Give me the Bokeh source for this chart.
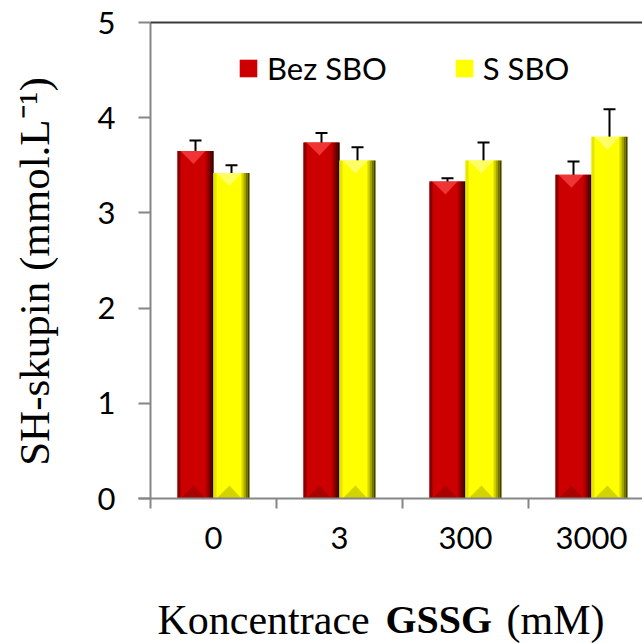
import math
from bokeh.plotting import figure
from bokeh.models import (Range1d, FixedTicker, Whisker, ColumnDataSource,
                          Legend, LegendItem, TeeHead, LinearAxis)
from bokeh.core.properties import value
from bokeh.embed import file_html
from bokeh.resources import INLINE

# ---- data ----
categories = ["0", "3", "300", "3000"]
bez_sbo = [3.65, 3.74, 3.33, 3.40]
bez_sbo_err = [0.11, 0.10, 0.035, 0.14]
s_sbo = [3.42, 3.55, 3.55, 3.80]
s_sbo_err = [0.08, 0.14, 0.19, 0.29]
y_ticks = [0, 1, 2, 3, 4, 5]
series_names = ["Bez SBO", "S SBO"]
x_title_parts = ["Koncentrace", "GSSG", "(mM)"]
y_title = "SH-skupin (mmol.L\u207b\u00b9)"

# ---- layout constants (pixel geometry of the frame) ----
X0_PX, Y0_PX = 150, 498     # where x=0 / y=0 sit on the page
PX = 1 / 126.0              # one screen pixel in x data units
PY = 5 / 476.0              # one screen pixel in y data units
W, H = 642, 643
BAR_W = 36 * PX
OFF = 18 * PX
AXIS_GRAY = "#868686"

p = figure(width=W, height=H,
           x_range=Range1d(-X0_PX * PX, (W - X0_PX) * PX),
           y_range=Range1d(-(H - Y0_PX) * PY, Y0_PX * PY),
           min_border=0, x_axis_location=None, y_axis_location=None,
           output_backend="svg", toolbar_location=None, outline_line_color=None,
           background_fill_color="white", border_fill_color="white")
p.xgrid.visible = False
p.ygrid.visible = False

centers = [i + 0.5 for i in range(len(categories))]
x_end = (W - X0_PX) * PX


def draw_bars(xs, hs, main, left_c, right_cs, top_c, bot_c):
    src = ColumnDataSource(dict(x=xs, top=hs))
    r = p.vbar(x="x", top="top", width=BAR_W, source=src, fill_color=main, line_color=None)
    p.vbar(x=[x - BAR_W / 2 + 1.5 * PX for x in xs], top=hs, width=3 * PX,
           fill_color=left_c, line_color=None)
    n = len(right_cs)
    for k, c in enumerate(right_cs):
        w = 2 * PX
        cx = [x + BAR_W / 2 - (n - k) * w + w / 2 for x in xs]
        p.vbar(x=cx, top=hs, width=w, fill_color=c, line_color=None)
    txs, tys = [], []
    for x, h in zip(xs, hs):
        txs.append([x - BAR_W / 2 + 3 * PX, x + BAR_W / 2 - 8 * PX, x - 2 * PX])
        tys.append([h, h, h - 13 * PY])
    p.patches(txs, tys, fill_color=top_c, line_color=None, fill_alpha=0.9)
    bxs, bys = [], []
    for x, h in zip(xs, hs):
        bxs.append([x - BAR_W / 2 + 3 * PX, x + BAR_W / 2 - 8 * PX, x - 2 * PX])
        bys.append([0, 0, 13 * PY])
    p.patches(bxs, bys, fill_color=bot_c, line_color=None, fill_alpha=0.8)
    return r


red_x = [c - OFF for c in centers]
yel_x = [c + OFF for c in centers]

r_red = draw_bars(red_x, bez_sbo, "#CC0000", "#8A0000",
                  ["#B00000", "#880000", "#5A0000", "#2E0000"], "#F23A3A", "#A00000")
r_yel = draw_bars(yel_x, s_sbo, "#FFFF00", "#E6E600",
                  ["#D6D600", "#A6A600", "#707000", "#3E3E00"], "#FFFF70", "#C8C800")

for xs, vals, errs in [(red_x, bez_sbo, bez_sbo_err), (yel_x, s_sbo, s_sbo_err)]:
    es = ColumnDataSource(dict(base=xs, upper=[v + e for v, e in zip(vals, errs)],
                               lower=[v - e for v, e in zip(vals, errs)]))
    w = Whisker(base="base", upper="upper", lower="lower", source=es,
                line_color="black", line_width=2,
                upper_head=TeeHead(size=12, line_color="black", line_width=2),
                lower_head=TeeHead(size=12, line_color="black", line_width=2))
    p.add_layout(w)

# axis lines and top border
p.segment(x0=[-12 * PX], y0=[0], x1=[x_end], y1=[0], line_color=AXIS_GRAY, line_width=2)
p.segment(x0=[0], y0=[0], x1=[0], y1=[y_ticks[-1]], line_color=AXIS_GRAY, line_width=2)
p.segment(x0=[0], y0=[y_ticks[-1]], x1=[x_end], y1=[y_ticks[-1]],
          line_color="#3a3a3a", line_width=2)

# x axis (fixed at y=0)
xa = LinearAxis(fixed_location=0)
xa.ticker = FixedTicker(ticks=centers, minor_ticks=list(range(len(categories) + 1)))
xa.major_label_overrides = {c: lab for c, lab in zip(centers, categories)}
xa.major_tick_out = 0
xa.major_tick_in = 0
xa.minor_tick_out = 10
xa.minor_tick_in = 0
xa.minor_tick_line_color = AXIS_GRAY
xa.minor_tick_line_width = 2
xa.axis_line_color = None
xa.major_label_text_font = "Lato"
xa.major_label_text_font_size = "31px"
xa.major_label_text_color = "black"
xa.major_label_standoff = 18
p.add_layout(xa, "below")

# y axis (fixed at x=0)
ya = LinearAxis(fixed_location=0)
ya.ticker = FixedTicker(ticks=y_ticks)
ya.major_tick_out = 12
ya.major_tick_in = 0
ya.minor_tick_out = 0
ya.minor_tick_in = 0
ya.major_tick_line_color = AXIS_GRAY
ya.major_tick_line_width = 2
ya.axis_line_color = None
ya.major_label_text_font = "Lato"
ya.major_label_text_font_size = "31px"
ya.major_label_text_color = "black"
ya.major_label_standoff = 23
p.add_layout(ya, "left")

legend = Legend(items=[LegendItem(label=series_names[0], renderers=[r_red]),
                       LegendItem(label=series_names[1], renderers=[r_yel])],
                orientation="horizontal", location=(237, 556),
                glyph_width=22, glyph_height=22, label_standoff=8, spacing=66,
                padding=0, margin=0, border_line_alpha=0, background_fill_alpha=0,
                label_text_font="Lato", label_text_font_size="31px",
                label_text_color="black")
p.add_layout(legend)

# axis titles as text glyphs
p.text(x=[(34 - X0_PX) * PX], y=[(Y0_PX - 271) * PY], text=[y_title], angle=math.pi / 2,
       text_align="center", text_baseline="alphabetic",
       text_font=value("Liberation Serif"), text_font_size="43px", text_color="black")
for xpos, txt, style, size in [(157, x_title_parts[0], "normal", "42px"),
                               (385, x_title_parts[1], "bold", "40px"),
                               (506, x_title_parts[2], "normal", "42px")]:
    p.text(x=[(xpos - X0_PX) * PX], y=[-(619 - Y0_PX) * PY], text=[txt],
           text_align="left", text_baseline="alphabetic",
           text_font=value("Liberation Serif"), text_font_style=style,
           text_font_size=size, text_color="black")

open("out.html", "w").write(file_html(p, INLINE))
